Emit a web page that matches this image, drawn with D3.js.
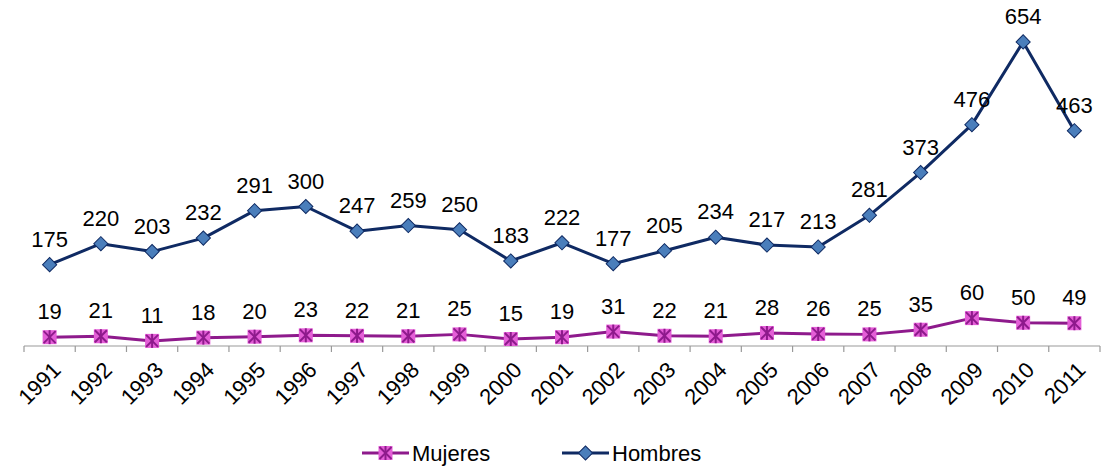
<!DOCTYPE html>
<html>
<head>
<meta charset="utf-8">
<script src="https://cdn.jsdelivr.net/npm/d3@7"></script>
<style>
  body { margin: 0; background: #fff; }
  svg { display: block; font-family: "Liberation Sans", Arial, sans-serif; }
</style>
</head>
<body>
<div id="chart"></div>
<script>
// Data
const years = ["1991", "1992", "1993", "1994", "1995", "1996", "1997", "1998", "1999", "2000",
  "2001", "2002", "2003", "2004", "2005", "2006", "2007", "2008", "2009", "2010", "2011"];
const mujeres = [19, 21, 11, 18, 20, 23, 22, 21, 25, 15, 19, 31, 22, 21, 28, 26, 25, 35, 60, 50, 49];
const hombres = [175, 220, 203, 232, 291, 300, 247, 259, 250, 183, 222, 177, 205, 234, 217, 213, 281, 373, 476, 654, 463];

const width = 1109, height = 466;
const left = 24, right = 1100, baseY = 346, topY = 20.5;

const svg = d3.select("#chart").append("svg")
  .attr("width", width)
  .attr("height", height);

const x = d3.scaleBand().domain(years).range([left, right]);
const y = d3.scaleLinear().domain([0, 700]).range([baseY, topY]);
const cx = (d, i) => x(years[i]) + x.bandwidth() / 2;

// x axis: gray line with ticks at category boundaries
const axis = svg.append("g");
axis.append("line")
  .attr("x1", left).attr("x2", right)
  .attr("y1", baseY).attr("y2", baseY)
  .attr("stroke", "#999").attr("stroke-width", 1.2);
axis.selectAll("line.tick")
  .data(d3.range(years.length + 1))
  .join("line")
  .attr("class", "tick")
  .attr("x1", i => left + i * x.step()).attr("x2", i => left + i * x.step())
  .attr("y1", baseY).attr("y2", baseY + 6)
  .attr("stroke", "#999").attr("stroke-width", 1.2);
axis.selectAll("text")
  .data(years)
  .join("text")
  .attr("transform", d => `translate(${x(d) + x.bandwidth() / 2 + 7},${baseY + 20}) rotate(-45)`)
  .attr("text-anchor", "end")
  .attr("dy", "0.35em")
  .attr("font-size", 22)
  .attr("fill", "#000")
  .text(d => d);

const line = d3.line().x(cx).y(d => y(d));

const hColor = "#0F2A63", hFill = "#4A7EBB";
const mColor = "#8E1A8C", mFill = "#E45ED7";

// Hombres series
svg.append("path")
  .datum(hombres)
  .attr("fill", "none")
  .attr("stroke", hColor)
  .attr("stroke-width", 3)
  .attr("stroke-linejoin", "round")
  .attr("d", line);

const diamond = d3.symbol().type(d3.symbolSquare).size(100);
function drawDiamond(g, px, py) {
  g.append("path")
    .attr("d", diamond())
    .attr("transform", `translate(${px},${py}) rotate(45)`)
    .attr("fill", hFill)
    .attr("stroke", hColor)
    .attr("stroke-width", 1);
}
const hg = svg.append("g");
hombres.forEach((d, i) => drawDiamond(hg, cx(d, i), y(d)));

// Mujeres series
svg.append("path")
  .datum(mujeres)
  .attr("fill", "none")
  .attr("stroke", mColor)
  .attr("stroke-width", 3)
  .attr("stroke-linejoin", "round")
  .attr("d", line);

function drawStar(g, px, py) {
  const s = 7;
  g.append("rect")
    .attr("x", px - s).attr("y", py - s)
    .attr("width", 2 * s).attr("height", 2 * s)
    .attr("fill", mFill);
  const p = g.append("g").attr("stroke", mColor).attr("stroke-width", 2);
  p.append("line").attr("x1", px - s + 1).attr("y1", py - s + 1).attr("x2", px + s - 1).attr("y2", py + s - 1);
  p.append("line").attr("x1", px - s + 1).attr("y1", py + s - 1).attr("x2", px + s - 1).attr("y2", py - s + 1);
  p.append("line").attr("x1", px).attr("y1", py - s).attr("x2", px).attr("y2", py + s);
}
const mg = svg.append("g");
mujeres.forEach((d, i) => drawStar(mg, cx(d, i), y(d)));

// value labels
function labels(data) {
  svg.append("g")
    .selectAll("text")
    .data(data)
    .join("text")
    .attr("x", cx)
    .attr("y", d => y(d) - 18)
    .attr("text-anchor", "middle")
    .attr("font-size", 22)
    .attr("fill", "#000")
    .text(d => d);
}
labels(hombres);
labels(mujeres);

// legend
const legY = 453;
const lg = svg.append("g");
lg.append("line").attr("x1", 362).attr("x2", 409).attr("y1", legY).attr("y2", legY)
  .attr("stroke", mColor).attr("stroke-width", 3);
drawStar(lg, 385.5, legY);
lg.append("text").attr("x", 412).attr("y", legY).attr("dy", "0.36em")
  .attr("font-size", 22).text("Mujeres");

lg.append("line").attr("x1", 562).attr("x2", 609).attr("y1", legY).attr("y2", legY)
  .attr("stroke", hColor).attr("stroke-width", 3);
drawDiamond(lg, 585.5, legY);
lg.append("text").attr("x", 612).attr("y", legY).attr("dy", "0.36em")
  .attr("font-size", 22).text("Hombres");
</script>
</body>
</html>
